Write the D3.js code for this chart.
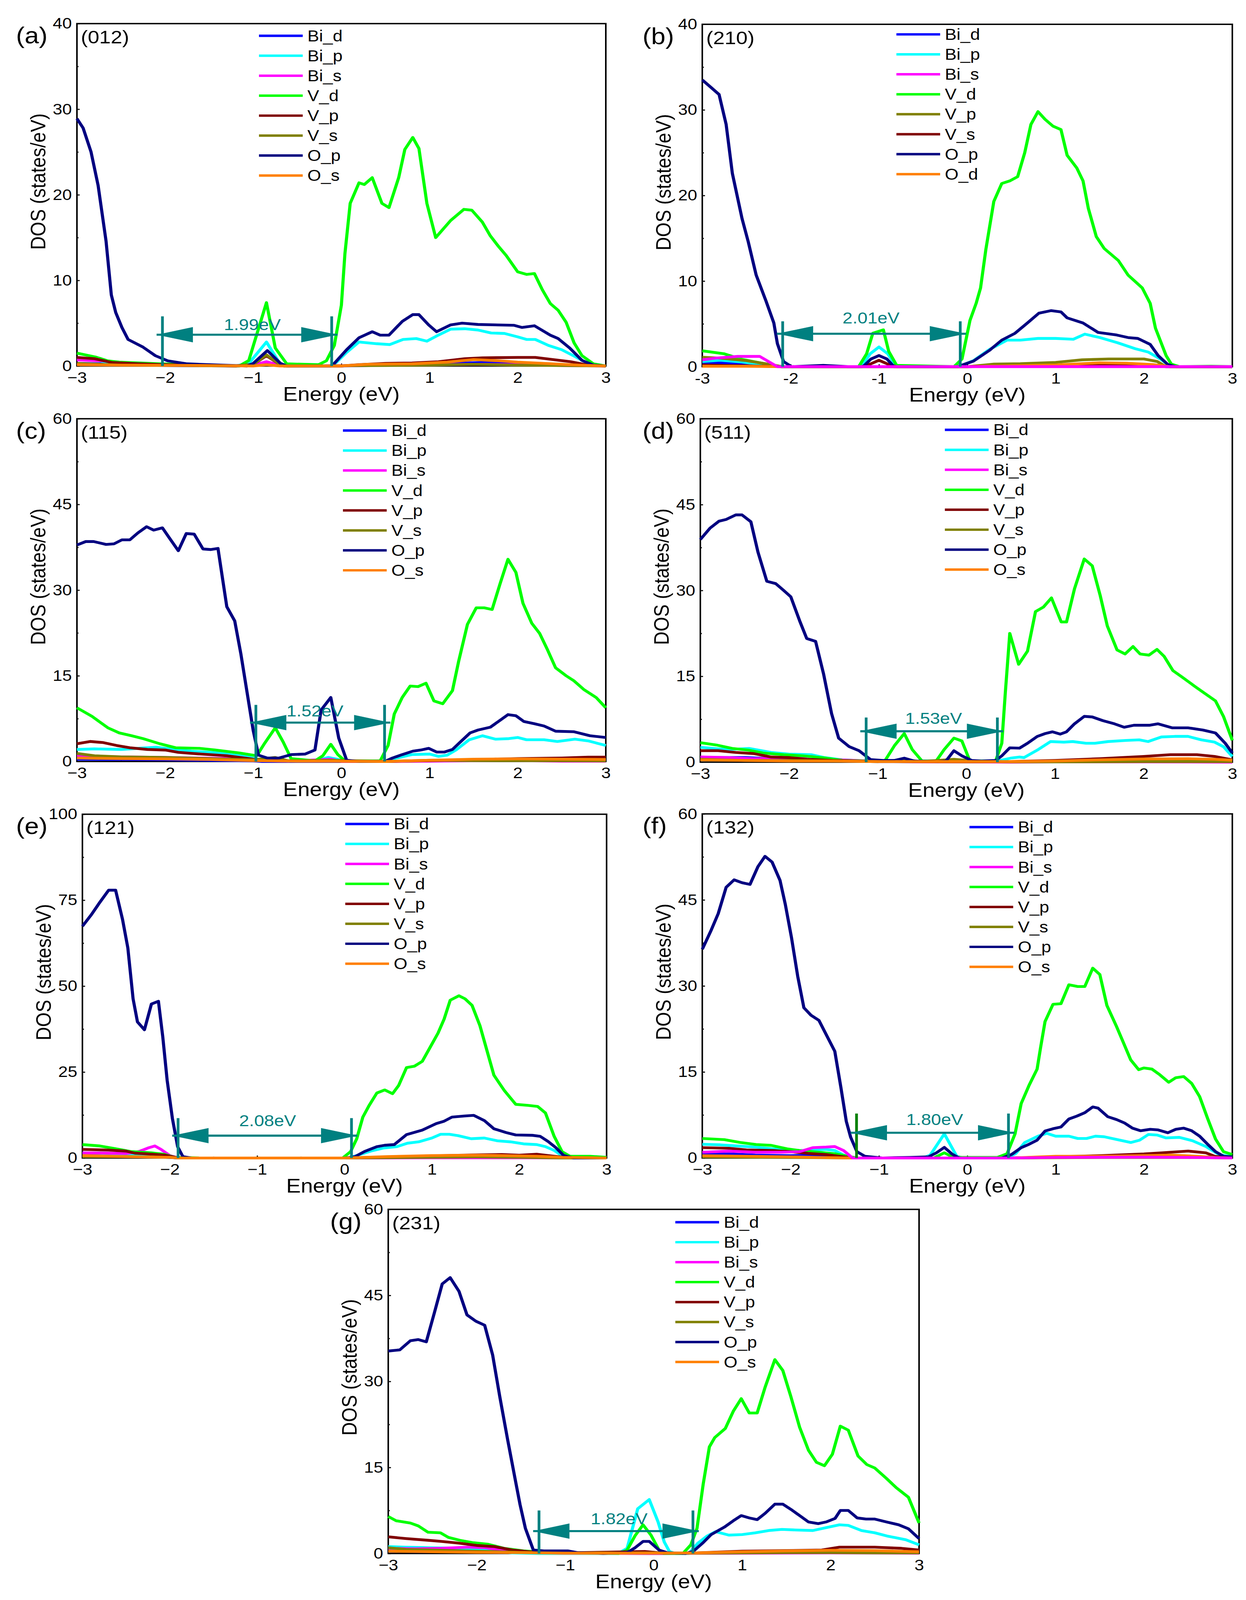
<!DOCTYPE html>
<html>
<head>
<meta charset="utf-8">
<script src="https://cdn.jsdelivr.net/npm/d3@7"></script>
<style>
  html, body { margin: 0; padding: 0; width: 100%; height: 100%; overflow: hidden; background: #fff; }
  #chart svg { display: block; width: 100vw; height: 100vh; }
  text { font-family: "Liberation Sans", Arial, sans-serif; fill: #000; }
</style>
</head>
<body>
<div id="chart"></div>
<script>
// ---- data ----
const energyTicks = [-3, -2, -1, 0, 1, 2, 3];
const panelLetters = ["(a)", "(b)", "(c)", "(d)", "(e)", "(f)", "(g)"];
const facets = ["(012)", "(210)", "(115)", "(511)", "(121)", "(132)", "(231)"];
const yMaxes = [40, 40, 60, 60, 100, 60, 60];

const seriesNames = ["Bi_d", "Bi_p", "Bi_s", "V_d", "V_p", "V_s", "O_p", "O_s"];
const seriesNamesB = ["Bi_d", "Bi_p", "Bi_s", "V_d", "V_p", "V_s", "O_p", "O_d"];
const seriesColors = ["#0000ff", "#00ffff", "#ff00ff", "#00ff00", "#800000", "#808000", "#000080", "#ff8000"];
const seriesColorsB = ["#0000ff", "#00ffff", "#ff00ff", "#00ff00", "#808000", "#800000", "#000080", "#ff8000"];

// band gap annotation (energies in eV, heights in DOS units)
const gapLabels = ["1.99eV", "2.01eV", "1.52eV", "1.53eV", "2.08eV", "1.80eV", "1.82eV"];
const gapStart = [-2.03, -2.09, -0.97, -1.13, -1.905, -1.254, -1.296];
const gapEnd = [-0.11, -0.08, 0.49, 0.35, 0.08, 0.466, 0.444];
const gapTop = [5.8, 5.3, 9.9, 7.8, 11.6, 7.75, 7.5];
const gapArrow = [3.65, 3.85, 6.8, 5.4, 6.5, 4.4, 3.9];
const gapTextX = [-1.01, -1.09, -0.30, -0.37, -0.88, -0.37, -0.39];
const gapTextY = [4.2, 5.05, 7.9, 6.7, 9.3, 5.75, 5.1];
const gapLeftColor = ["#008080", "#008080", "#008080", "#008080", "#008080", "#008000", "#008080"];

// series in legend order: Bi_d, Bi_p, Bi_s, V_d, V_p, V_s, O_p, O_s
const dosA = [
  [[-3,0.3],[-2.7,0.25],[-2.4,0.1],[-2,0.05],[-1.2,0],[-1.0,0.05],[-0.85,0.3],[-0.7,0.05],[-0.6,0],[0,0],[0.5,0.1],[1.0,0.2],[1.4,0.35],[1.6,0.4],[2.0,0.3],[2.4,0.15],[2.8,0.05],[3,0]],
  [[-3,0.9],[-2.8,0.7],[-2.6,0.3],[-2.2,0.15],[-1.2,0],[-1.05,0.3],[-0.85,2.8],[-0.7,0.3],[-0.62,0],[-0.1,0],[0.05,1.5],[0.2,2.8],[0.4,2.6],[0.55,2.5],[0.7,3.1],[0.85,3.2],[0.97,2.9],[1.08,3.5],[1.24,4.3],[1.4,4.35],[1.55,4.2],[1.7,3.85],[1.85,3.8],[2.0,3.4],[2.1,3.1],[2.2,3.1],[2.35,2.4],[2.5,1.9],[2.65,1.1],[2.78,0.4],[2.9,0.1],[3,0]],
  [[-3,0.7],[-2.7,0.6],[-2.5,0.3],[-2.2,0.15],[-1.2,0],[-1.0,0.1],[-0.85,0.5],[-0.7,0.1],[-0.6,0],[0.2,0.05],[1.0,0.15],[1.6,0.2],[2.0,0.15],[2.5,0.05],[3,0]],
  [[-3,1.5],[-2.79,1.05],[-2.65,0.6],[-2.52,0.45],[-2.06,0.25],[-1.16,0],[-1.05,0.65],[-0.85,7.4],[-0.75,2.1],[-0.62,0.25],[-0.26,0.15],[-0.17,0.6],[-0.08,2.4],[0.0,7.1],[0.04,13.1],[0.1,19],[0.2,21.4],[0.26,21.2],[0.35,22],[0.46,19],[0.54,18.5],[0.65,22],[0.72,25.3],[0.81,26.7],[0.88,25.4],[0.97,19],[1.07,15],[1.24,17],[1.39,18.3],[1.48,18.2],[1.6,16.8],[1.69,15.2],[1.78,14],[1.87,12.9],[2.0,11],[2.1,10.7],[2.19,10.8],[2.28,8.9],[2.37,7.3],[2.46,6.5],[2.55,5.1],[2.64,2.7],[2.73,1.2],[2.86,0.25],[3,0]],
  [[-3,1.0],[-2.8,0.85],[-2.6,0.4],[-2.3,0.25],[-2.0,0.15],[-1.2,0],[-1.0,0.2],[-0.85,1.2],[-0.7,0.2],[-0.65,0],[0,0],[0.2,0.15],[0.5,0.3],[0.8,0.35],[1.1,0.5],[1.4,0.85],[1.6,0.95],[2.0,1.0],[2.2,1.0],[2.4,0.75],[2.6,0.5],[2.8,0.1],[3,0]],
  [[-3,0.3],[-2.5,0.1],[-1.2,0],[-1.0,0.2],[-0.85,1.3],[-0.7,0.2],[-0.65,0],[0.5,0.05],[1.0,0.1],[1.5,0.2],[2.0,0.1],[3,0]],
  [[-3,28.9],[-2.93,27.8],[-2.84,25],[-2.76,21.1],[-2.67,14.6],[-2.61,8.3],[-2.56,6.25],[-2.49,4.5],[-2.42,3.1],[-2.25,2.2],[-2.11,1.2],[-1.97,0.6],[-1.75,0.25],[-1.34,0.1],[-1.07,0],[-1.0,0.3],[-0.84,1.8],[-0.69,0.3],[-0.62,0],[-0.12,0],[-0.08,0.3],[0.06,1.9],[0.2,3.3],[0.35,4.0],[0.44,3.6],[0.54,3.6],[0.69,5.2],[0.81,6.0],[0.88,6.0],[0.99,4.8],[1.08,4.0],[1.24,4.8],[1.37,5.0],[1.55,4.85],[1.96,4.75],[2.05,4.5],[2.19,4.7],[2.37,3.6],[2.46,3.2],[2.59,2.1],[2.73,0.65],[2.86,0.1],[3,0]],
  [[-3,0.15],[-2.5,0.1],[-1.5,0.05],[-1,0],[-0.85,0.15],[-0.7,0],[0,0],[0.3,0.2],[0.8,0.25],[1.2,0.45],[1.5,0.75],[1.8,0.6],[2.0,0.45],[2.3,0.3],[2.7,0.1],[3,0]]
];

const dosB = [
  [[-3,0.5],[-2.7,0.4],[-2.4,0.2],[-2.1,0],[0,0],[0.5,0.05],[1.0,0.15],[1.5,0.15],[2.0,0.15],[2.25,0],[3,0]],
  [[-3,0.6],[-2.8,0.75],[-2.55,0.55],[-2.3,0.2],[-2.1,0],[-1.2,0],[-1.1,1.5],[-1.0,2.3],[-0.9,1.5],[-0.8,0],[-0.1,0],[0.07,0.7],[0.25,2.0],[0.45,3.1],[0.6,3.1],[0.8,3.3],[1.0,3.3],[1.2,3.2],[1.33,3.8],[1.5,3.4],[1.7,2.8],[1.9,2.1],[2.05,1.7],[2.2,0.8],[2.3,0],[3,0]],
  [[-3,0.8],[-2.85,1.0],[-2.6,1.2],[-2.35,1.2],[-2.15,0],[3,0]],
  [[-3,1.85],[-2.75,1.5],[-2.57,0.9],[-2.35,0.45],[-2.1,0],[-1.23,0],[-1.14,1.5],[-1.07,3.9],[-0.95,4.3],[-0.89,1.8],[-0.8,0.15],[-0.15,0],[-0.06,0.9],[0.03,5.4],[0.1,7.4],[0.15,9.2],[0.21,13.7],[0.3,19.3],[0.39,21.4],[0.48,21.7],[0.57,22.2],[0.65,25],[0.72,28.3],[0.8,29.8],[0.88,28.9],[0.97,28.1],[1.06,27.7],[1.13,24.7],[1.24,23.2],[1.31,21.7],[1.37,18.5],[1.46,15.2],[1.55,13.8],[1.71,12.4],[1.82,10.7],[1.98,9.2],[2.07,7.4],[2.13,4.5],[2.25,1.3],[2.31,0.3],[2.4,0],[2.76,0.05],[3,0]],
  [[-3,1.1],[-2.8,1.0],[-2.5,0.7],[-2.2,0.2],[-2.1,0],[0,0],[0.3,0.3],[0.6,0.35],[1.0,0.5],[1.3,0.8],[1.6,0.9],[2.0,0.9],[2.15,0.6],[2.25,0],[3,0]],
  [[-3,0.2],[-2.5,0.1],[-2.1,0],[-1.2,0],[-1.1,0.3],[-1.0,0.75],[-0.9,0.3],[-0.8,0],[0,0],[0.5,0.1],[1.0,0.15],[1.5,0.2],[2.0,0.15],[2.3,0],[3,0]],
  [[-3,33.5],[-2.91,32.7],[-2.81,31.8],[-2.73,28.3],[-2.66,22.6],[-2.55,17.3],[-2.48,14.6],[-2.39,10.7],[-2.28,7.7],[-2.19,5.1],[-2.15,2.7],[-2.08,0.6],[-1.99,0],[-1.63,0.15],[-1.35,0],[-1.18,0],[-1.09,0.9],[-1.0,1.3],[-0.91,0.9],[-0.83,0],[-0.11,0],[0.07,0.65],[0.25,1.9],[0.39,3.1],[0.54,3.9],[0.68,5.1],[0.81,6.25],[0.95,6.55],[1.06,6.4],[1.13,5.7],[1.31,5.1],[1.48,4.0],[1.69,3.7],[1.82,3.4],[1.93,3.3],[2.07,2.6],[2.16,1.3],[2.27,0.25],[2.36,0],[3,0]],
  [[-3,0.05],[-2.5,0.05],[-2.1,0],[0,0],[0.5,0.1],[1.0,0.2],[1.5,0.45],[1.8,0.4],[2.1,0.25],[2.3,0],[3,0]]
];

const dosC = [
  [[-3,0.4],[-2.5,0.35],[-2.0,0.3],[-1.5,0.2],[-1.0,0.1],[-0.9,0],[0.5,0],[1.0,0.1],[1.5,0.2],[2.0,0.2],[2.5,0.15],[3,0.15]],
  [[-3,2.1],[-2.8,2.2],[-2.5,2.1],[-2.1,2.5],[-2.0,2.3],[-1.7,1.8],[-1.4,1.5],[-1.1,0.9],[-0.95,0.4],[-0.8,0.2],[-0.5,0.1],[-0.3,0.1],[-0.15,0.7],[-0.05,0.4],[0.05,0],[0.49,0],[0.6,0.5],[0.8,1.2],[1.0,1.3],[1.1,0.9],[1.2,1.1],[1.3,2.0],[1.45,3.8],[1.6,4.5],[1.75,3.9],[1.9,4.0],[2.0,4.2],[2.1,3.8],[2.3,3.8],[2.45,3.5],[2.65,3.9],[2.8,3.6],[2.9,3.2],[3,2.8]],
  [[-3,1.1],[-2.8,0.9],[-2.5,0.8],[-2.0,0.7],[-1.6,0.6],[-1.2,0.5],[-0.9,0.2],[-0.6,0.05],[-0.12,0.4],[0,0],[0.5,0],[1.0,0.05],[1.9,0.2],[2.5,0.05],[3,0.05]],
  [[-3,9.4],[-2.83,7.9],[-2.65,5.9],[-2.52,5.0],[-2.38,4.5],[-2.25,4.0],[-2.06,3.1],[-1.88,2.4],[-1.61,2.3],[-1.43,2.0],[-1.16,1.5],[-0.96,1.0],[-0.87,3.2],[-0.75,5.9],[-0.66,3.4],[-0.57,0.5],[-0.3,0.1],[-0.21,1.0],[-0.12,3.0],[-0.04,1.2],[0.04,0.1],[0.44,0.1],[0.53,2.8],[0.6,8.3],[0.69,11.2],[0.78,13.2],[0.87,13.1],[0.96,13.7],[1.05,10.6],[1.15,10.1],[1.26,12.4],[1.33,17.5],[1.43,24],[1.53,26.9],[1.62,26.9],[1.71,26.6],[1.8,31.1],[1.89,35.4],[1.98,33.1],[2.06,27.7],[2.16,24.2],[2.25,22.4],[2.34,19.5],[2.43,16.4],[2.55,15.0],[2.64,14.1],[2.75,12.6],[2.89,11.2],[3,9.4]],
  [[-3,3.1],[-2.85,3.5],[-2.7,3.3],[-2.55,2.8],[-2.4,2.4],[-2.2,2.1],[-2.0,2.0],[-1.85,1.6],[-1.6,1.3],[-1.3,1.0],[-1.1,0.6],[-0.95,0.3],[-0.75,0.5],[-0.6,0.1],[0,0.05],[0.5,0],[1.0,0.15],[1.5,0.3],[2.0,0.5],[2.5,0.6],[2.8,0.75],[3,0.75]],
  [[-3,1.4],[-2.8,1.0],[-2.5,0.8],[-2.0,0.7],[-1.5,0.5],[-1.0,0.3],[-0.75,0.7],[-0.6,0.1],[-0.1,0.2],[0.5,0],[1.0,0.2],[1.5,0.15],[2.0,0.15],[3,0.1]],
  [[-3,37.9],[-2.9,38.5],[-2.81,38.5],[-2.67,38],[-2.58,38.1],[-2.49,38.8],[-2.4,38.8],[-2.31,40],[-2.21,41.1],[-2.13,40.5],[-2.03,40.9],[-1.95,39.1],[-1.85,36.9],[-1.76,39.9],[-1.67,39.8],[-1.57,37.2],[-1.48,37.1],[-1.4,37.3],[-1.3,27.1],[-1.21,24.6],[-1.14,18.8],[-1.07,12.1],[-1.0,5.4],[-0.94,1.1],[-0.84,0.6],[-0.71,0.6],[-0.57,1.2],[-0.41,1.3],[-0.3,2.0],[-0.23,9.0],[-0.12,11.2],[-0.03,4.1],[0.06,0.2],[0.2,0],[0.49,0],[0.58,0.6],[0.69,1.2],[0.81,1.8],[0.9,2.0],[0.99,2.3],[1.08,1.65],[1.17,1.65],[1.26,2.1],[1.37,3.7],[1.46,5.0],[1.55,5.5],[1.69,6.0],[1.8,7.2],[1.89,8.2],[1.98,8.0],[2.07,7.0],[2.19,6.6],[2.3,6.2],[2.43,5.3],[2.64,5.2],[2.82,4.5],[3,4.2]],
  [[-3,0.6],[-2.5,0.5],[-2.0,0.45],[-1.5,0.35],[-1.0,0.15],[-0.5,0.05],[0,0.05],[0.5,0],[1.0,0.2],[1.5,0.4],[2.0,0.45],[2.5,0.4],[3,0.35]]
];

const dosD = [
  [[-3,0.8],[-2.5,0.8],[-2.0,0.5],[-1.5,0.2],[-1,0.1],[0,0.05],[0.5,0.05],[1.0,0.15],[1.5,0.2],[2.0,0.25],[2.5,0.25],[3,0.1]],
  [[-3,2.6],[-2.7,2.2],[-2.45,2.4],[-2.2,1.7],[-2.0,1.4],[-1.75,1.3],[-1.6,0.8],[-1.4,0.4],[-1.1,0.2],[-0.7,0.1],[0,0.1],[0.35,0.2],[0.5,0.7],[0.6,0.9],[0.65,0.8],[0.8,2.1],[0.95,3.6],[1.1,3.5],[1.2,3.6],[1.35,3.3],[1.45,3.3],[1.6,3.6],[1.8,3.8],[1.95,3.9],[2.05,3.6],[2.2,4.4],[2.35,4.5],[2.5,4.5],[2.65,3.9],[2.8,3.5],[2.9,2.7],[3,1.0]],
  [[-3,0.9],[-2.7,0.8],[-2.4,0.6],[-2.0,0.7],[-1.75,1.0],[-1.6,0.6],[-1.4,0.4],[-1.1,0.2],[-0.5,0.05],[0,0.05],[0.5,0],[1.0,0.05],[1.5,0.05],[2,0.05],[3,0]],
  [[-3,3.4],[-2.82,3.0],[-2.64,2.4],[-2.46,2.1],[-2.29,1.6],[-2.06,1.3],[-1.84,1.1],[-1.61,0.75],[-1.39,0.3],[-1.12,0.2],[-0.92,0.2],[-0.81,2.9],[-0.7,5.0],[-0.61,2.2],[-0.5,0.2],[-0.34,0.2],[-0.25,2.2],[-0.14,4.2],[-0.05,3.7],[0.04,0.2],[0.33,0.2],[0.4,3.3],[0.44,12.2],[0.49,22.5],[0.59,17.1],[0.69,19.4],[0.78,26.3],[0.87,27.1],[0.96,28.7],[1.07,24.5],[1.13,24.5],[1.22,30.3],[1.33,35.5],[1.42,34.3],[1.51,29.1],[1.59,23.8],[1.7,19.6],[1.79,18.9],[1.88,20.2],[1.96,18.9],[2.06,18.7],[2.15,19.7],[2.23,18.5],[2.33,16],[2.43,14.9],[2.59,13.1],[2.81,10.7],[2.9,8.0],[3,3.8]],
  [[-3,2.0],[-2.8,2.0],[-2.6,1.7],[-2.4,1.5],[-2.2,0.9],[-2.0,0.8],[-1.8,0.5],[-1.5,0.3],[-1.1,0.15],[-0.7,0.1],[0,0.05],[0.5,0.1],[1.0,0.3],[1.5,0.6],[2.0,1.0],[2.3,1.3],[2.6,1.3],[2.8,1.0],[3,0.4]],
  [[-3,0.5],[-2.5,0.3],[-2.0,0.3],[-1.5,0.2],[-1,0.1],[-0.7,0.4],[-0.5,0.1],[-0.14,0.5],[0.1,0.2],[0.5,0.05],[1.0,0.05],[2.0,0.1],[3,0.1]],
  [[-3,38.9],[-2.89,40.9],[-2.79,42.1],[-2.71,42.4],[-2.6,43.2],[-2.53,43.2],[-2.43,42.0],[-2.35,36.7],[-2.25,31.6],[-2.15,31.2],[-2.06,30],[-1.98,28.9],[-1.88,24.7],[-1.8,21.6],[-1.7,21.1],[-1.61,15.4],[-1.52,8.5],[-1.44,4.2],[-1.32,2.7],[-1.21,2.0],[-1.08,0.45],[-0.94,0.3],[-0.81,0.3],[-0.7,0.7],[-0.59,0.2],[-0.32,0.1],[-0.23,0.2],[-0.14,2.0],[-0.05,1.1],[0.06,0.3],[0.17,0.2],[0.33,0.3],[0.4,1.1],[0.49,2.5],[0.6,2.45],[0.69,3.3],[0.8,4.5],[0.89,5.0],[0.97,5.3],[1.06,4.9],[1.13,5.3],[1.22,6.7],[1.33,8.0],[1.42,7.9],[1.54,7.25],[1.67,6.7],[1.78,6.1],[1.89,6.45],[2.07,6.45],[2.16,6.7],[2.32,6.0],[2.5,6.0],[2.67,5.6],[2.81,5.1],[2.92,3.3],[3,1.6]],
  [[-3,0.4],[-2.5,0.3],[-2.0,0.2],[-1.5,0.2],[-1.0,0.1],[0,0.1],[0.5,0.1],[1.0,0.2],[1.5,0.4],[2.0,0.55],[2.5,0.6],[2.8,0.5],[3,0.35]]
];

const dosE = [
  [[-3,0.8],[-2.5,0.6],[-2.1,0.3],[-1.9,0],[0,0],[1.0,0.2],[1.6,0.4],[2.0,0.3],[2.5,0.05],[3,0]],
  [[-3,1.5],[-2.8,1.4],[-2.6,1.2],[-2.4,0.8],[-2.2,0.6],[-2.05,0.5],[-1.9,0],[0.05,0],[0.15,0.8],[0.3,2.0],[0.45,2.9],[0.6,3.3],[0.72,4.3],[0.85,4.7],[1.0,5.8],[1.1,6.9],[1.2,6.9],[1.3,6.5],[1.45,5.6],[1.6,5.8],[1.75,5.0],[1.9,4.7],[2.05,4.1],[2.2,3.9],[2.3,3.3],[2.4,2.2],[2.5,0.5],[2.6,0],[3,0]],
  [[-3,1.5],[-2.7,1.4],[-2.5,1.3],[-2.35,1.9],[-2.25,2.9],[-2.17,3.5],[-2.1,2.5],[-2.0,0.7],[-1.9,0],[0,0],[1,0.05],[2,0.05],[3,0]],
  [[-3,3.9],[-2.8,3.5],[-2.62,2.7],[-2.44,1.85],[-2.21,1.5],[-2.07,1.1],[-1.94,0.2],[-1.66,0],[-0.02,0],[0.07,1.85],[0.14,5.6],[0.21,11.9],[0.28,15.2],[0.37,18.9],[0.46,19.8],[0.55,18.7],[0.62,21.1],[0.71,26.3],[0.8,26.7],[0.89,28.1],[0.98,32.2],[1.07,36.3],[1.14,40.4],[1.21,45.9],[1.31,47.2],[1.38,46.3],[1.46,44.4],[1.55,38.5],[1.62,32.2],[1.71,24.1],[1.83,19.6],[1.96,15.6],[2.1,15.3],[2.21,15.0],[2.3,13.1],[2.4,6.3],[2.49,1.85],[2.58,0.5],[2.81,0.5],[3,0.2]],
  [[-3,2.5],[-2.7,2.3],[-2.5,2.0],[-2.4,1.4],[-2.2,1.1],[-2.05,0.8],[-1.9,0],[0,0],[0.5,0.3],[1.0,0.6],[1.5,0.9],[1.8,1.0],[2.0,0.8],[2.2,1.1],[2.4,0.5],[2.6,0],[3,0]],
  [[-3,0.4],[-2.5,0.4],[-2.0,0.2],[-1.9,0],[0,0],[1,0.2],[1.5,0.3],[2,0.2],[2.5,0],[3,0]],
  [[-3,67.4],[-2.9,70.7],[-2.8,74.4],[-2.7,77.9],[-2.62,77.9],[-2.54,69.3],[-2.48,61.1],[-2.42,46.3],[-2.37,39.6],[-2.29,37.3],[-2.21,44.8],[-2.13,45.6],[-2.08,35.2],[-2.03,22.6],[-1.97,11.5],[-1.91,3.3],[-1.85,0.4],[-1.75,0],[0.02,0],[0.12,0.4],[0.23,1.9],[0.37,3.3],[0.46,3.7],[0.57,3.9],[0.71,6.8],[0.89,8.1],[1.05,10],[1.14,10.7],[1.23,11.9],[1.37,12.2],[1.48,12.4],[1.6,10.9],[1.71,8.5],[1.85,7.4],[1.96,6.7],[2.15,6.6],[2.24,6.3],[2.33,4.8],[2.42,3.0],[2.51,0.7],[2.62,0],[3,0]],
  [[-3,0.7],[-2.5,0.4],[-2.0,0.2],[-1.9,0],[0,0],[0.5,0.4],[1.0,0.7],[1.5,0.8],[1.8,0.7],[2.2,0.5],[2.5,0.2],[3,0]]
];

const dosF = [
  [[-3,0.6],[-2.7,0.7],[-2.4,0.5],[-2.0,0.4],[-1.7,0.5],[-1.5,0.4],[-1.3,0],[0.45,0],[1.0,0.1],[2.0,0.3],[2.5,0.3],[3,0]],
  [[-3,2.4],[-2.8,2.3],[-2.6,2.1],[-2.4,1.9],[-2.2,1.6],[-2.0,1.3],[-1.85,1.3],[-1.75,1.4],[-1.6,1.5],[-1.5,1.3],[-1.4,0.5],[-1.3,0],[-0.5,0],[-0.42,0.5],[-0.26,4.2],[-0.12,0.3],[-0.05,0],[0.45,0],[0.55,0.8],[0.65,2.7],[0.8,3.8],[0.9,4.3],[1.0,3.8],[1.15,3.8],[1.25,3.4],[1.35,3.4],[1.45,3.8],[1.55,3.7],[1.7,3.2],[1.85,2.7],[1.95,3.1],[2.05,4.1],[2.15,4.0],[2.25,3.5],[2.4,3.6],[2.55,3.0],[2.7,2.0],[2.85,0.6],[3,0.2]],
  [[-3,1.0],[-2.7,1.2],[-2.4,1.0],[-2.1,1.0],[-1.9,1.1],[-1.75,1.8],[-1.6,1.9],[-1.5,2.0],[-1.4,1.3],[-1.3,0],[0.5,0],[1.0,0.1],[2.0,0.15],[2.5,0.1],[3,0]],
  [[-3,3.4],[-2.75,3.2],[-2.57,2.7],[-2.39,2.35],[-2.22,2.2],[-2.04,1.6],[-1.9,1.3],[-1.68,1.0],[-1.5,0.75],[-1.32,0.2],[-1.25,0],[-0.38,0],[-0.26,0.9],[-0.17,0.2],[-0.06,0.1],[0.34,0.1],[0.45,0.75],[0.54,4.2],[0.61,9.5],[0.7,12.7],[0.79,15.5],[0.83,19.3],[0.88,23.8],[0.97,26.8],[1.06,26.9],[1.15,30.2],[1.25,29.9],[1.33,29.9],[1.42,33.1],[1.5,32.0],[1.58,26.6],[1.69,22.9],[1.77,20.0],[1.85,17.1],[1.94,15.4],[2.0,15.7],[2.09,15.5],[2.18,14.5],[2.28,13.2],[2.36,14.0],[2.45,14.2],[2.54,13.0],[2.63,10.7],[2.72,6.9],[2.81,3.3],[2.9,1.1],[3,0.6]],
  [[-3,1.8],[-2.7,1.7],[-2.5,1.4],[-2.2,1.3],[-2.0,1.1],[-1.8,0.8],[-1.6,0.6],[-1.3,0],[0.5,0],[1.0,0.2],[1.5,0.4],[2.0,0.7],[2.2,0.9],[2.5,1.2],[2.7,0.9],[2.8,0.3],[3,0]],
  [[-3,0.2],[-2.5,0.15],[-2,0.1],[-1.3,0],[0.5,0],[1.5,0.1],[2.5,0.1],[3,0]],
  [[-3,36.4],[-2.9,39.7],[-2.82,42.6],[-2.73,47.2],[-2.64,48.5],[-2.55,48.0],[-2.46,47.7],[-2.37,50.8],[-2.29,52.6],[-2.21,51.6],[-2.12,48.4],[-2.06,44.2],[-1.99,38.4],[-1.92,31.7],[-1.85,26.2],[-1.77,24.9],[-1.68,24],[-1.59,21.3],[-1.5,18.6],[-1.43,12.2],[-1.37,6.4],[-1.32,3.6],[-1.25,1.1],[-1.16,0.3],[-0.96,0],[-0.65,0.1],[-0.44,0.2],[-0.35,0.9],[-0.26,1.85],[-0.17,0.65],[-0.09,0],[0.39,0],[0.5,0.6],[0.61,1.8],[0.7,2.4],[0.79,3.1],[0.88,4.7],[0.97,5.1],[1.06,5.4],[1.15,6.8],[1.24,7.3],[1.33,7.9],[1.42,8.9],[1.48,8.7],[1.59,7.2],[1.69,6.7],[1.78,6.1],[1.87,5.2],[1.96,4.75],[2.07,5.0],[2.16,4.9],[2.27,4.4],[2.36,5.0],[2.45,5.2],[2.54,4.75],[2.63,3.8],[2.72,2.4],[2.81,1.1],[2.9,0.3],[3,0.2]],
  [[-3,0.4],[-2.5,0.3],[-2.0,0.2],[-1.7,0.1],[-1.3,0],[0.5,0],[1.0,0.3],[1.5,0.3],[2.0,0.4],[2.3,0.5],[2.6,0.3],[2.8,0.1],[3,0]]
];

const dosG = [
  [[-3,0.4],[-2.5,0.3],[-2.0,0.3],[-1.5,0.1],[0,0],[1,0.1],[2,0.2],[3,0.1]],
  [[-3,1.2],[-2.8,1.1],[-2.5,1.0],[-2.2,0.9],[-2.0,0.8],[-1.8,0.4],[-1.6,0.1],[-1.3,0],[-0.4,0],[-0.3,0.9],[-0.18,7.8],[-0.05,9.4],[0.05,5.5],[0.12,2.0],[0.18,0.3],[0.25,0],[0.4,0],[0.5,1.8],[0.6,3.0],[0.7,3.8],[0.85,3.2],[1.0,3.3],[1.15,3.6],[1.3,4.0],[1.45,4.2],[1.6,4.1],[1.8,4.0],[1.95,4.5],[2.1,5.0],[2.2,4.9],[2.35,4.0],[2.5,3.6],[2.65,3.0],[2.85,2.4],[3,1.5]],
  [[-3,0.9],[-2.7,0.8],[-2.4,0.9],[-2.1,1.1],[-1.9,1.0],[-1.7,0.5],[-1.4,0.2],[-1.0,0.05],[0,0],[1.0,0.05],[2,0.1],[3,0.05]],
  [[-3,6.45],[-2.91,5.7],[-2.75,5.3],[-2.66,4.8],[-2.55,3.7],[-2.41,3.6],[-2.32,2.8],[-2.19,2.3],[-2.05,1.9],[-1.87,1.6],[-1.69,0.9],[-1.47,0.45],[-1.15,0.15],[-0.39,0],[-0.3,0.6],[-0.21,3.1],[-0.12,5.0],[-0.03,3.2],[0.06,0.6],[0.11,0],[0.33,0],[0.42,1.5],[0.49,4.4],[0.56,12.1],[0.63,18.6],[0.69,20.2],[0.81,21.8],[0.9,24.8],[0.99,27],[1.08,24.5],[1.17,24.5],[1.26,29],[1.37,33.8],[1.46,31.9],[1.55,27.4],[1.65,22.0],[1.75,18.0],[1.84,15.9],[1.93,15.3],[2.02,17.3],[2.11,22.2],[2.2,21.5],[2.31,17.0],[2.41,15.5],[2.5,14.9],[2.63,13.1],[2.74,11.5],[2.88,9.8],[3,5.3]],
  [[-3,2.9],[-2.8,2.6],[-2.55,2.3],[-2.4,2.1],[-2.2,1.8],[-2.0,1.4],[-1.8,1.2],[-1.6,0.6],[-1.4,0.3],[-1.0,0.1],[-0.1,0.35],[0.1,0.05],[0.5,0.1],[1.0,0.4],[1.5,0.5],[1.9,0.6],[2.1,1.1],[2.5,1.1],[2.8,0.9],[3,0.6]],
  [[-3,1.0],[-2.8,0.7],[-2.5,0.6],[-2.0,0.4],[-1.5,0.2],[-1.0,0.1],[0,0.1],[0.5,0.05],[1.0,0.1],[1.5,0.15],[2.0,0.15],[2.5,0.1],[3,0.1]],
  [[-3,35.3],[-2.87,35.5],[-2.75,37.1],[-2.66,37.3],[-2.57,36.9],[-2.48,41.9],[-2.39,47.0],[-2.3,48.1],[-2.2,45.7],[-2.11,41.6],[-2.01,40.5],[-1.91,39.8],[-1.82,34.6],[-1.74,27.4],[-1.65,19.8],[-1.56,12.5],[-1.51,8.5],[-1.45,4.4],[-1.36,0.6],[-1.24,0.45],[-0.97,0.45],[-0.86,0.15],[-0.57,0],[-0.3,0.15],[-0.21,1.0],[-0.12,2.1],[-0.05,2.1],[0.06,0.6],[0.15,0.15],[0.36,0],[0.45,0.4],[0.56,1.9],[0.65,3.3],[0.8,4.6],[0.9,5.7],[0.99,6.6],[1.08,6.2],[1.17,5.9],[1.26,7.0],[1.37,8.6],[1.46,8.6],[1.55,7.7],[1.66,6.5],[1.75,5.5],[1.86,5.2],[1.95,5.5],[2.05,6.1],[2.11,7.5],[2.2,7.5],[2.3,6.2],[2.4,6.0],[2.5,6.0],[2.63,5.5],[2.77,5.0],[2.88,4.3],[3,2.6]],
  [[-3,0.4],[-2.5,0.3],[-2.0,0.2],[-1.5,0.15],[-1.0,0.05],[0,0.05],[0.5,0.1],[1.0,0.3],[1.5,0.45],[2.0,0.55],[2.5,0.5],[3,0.3]]
];

const panelData = [dosA, dosB, dosC, dosD, dosE, dosF, dosG];
// index of a series drawn last (on top); -1 keeps legend order
const topSeries = [-1, 2, -1, -1, -1, 2, -1];

// ---- layout (pixels of the 3190 x 4608 figure) ----
const W = 3190, H = 4608;
const frames = [
  { left: 197, right: 1551, top: 68, bottom: 1054, tagX: 41, legX: 466, legY: 35 },
  { left: 1798, right: 3155, top: 70, bottom: 1056, tagX: 1645, legX: 497, legY: 29 },
  { left: 197, right: 1551, top: 1206, bottom: 2193, tagX: 41, legX: 681, legY: 34 },
  { left: 1793, right: 3155, top: 1206, bottom: 2195, tagX: 1645, legX: 626, legY: 32 },
  { left: 211, right: 1553, top: 2345, bottom: 3335, tagX: 41, legX: 673, legY: 28 },
  { left: 1798, right: 3155, top: 2344, bottom: 3335, tagX: 1645, legX: 684, legY: 38 },
  { left: 994, right: 2353, top: 3483, bottom: 4474, tagX: 845, legX: 735, legY: 37 }
];
const teal = "#008080";
const font = '"Liberation Sans", Arial, sans-serif';

// the svg is stretched over the whole window so the full figure is always in view
const svg = d3.select("#chart").append("svg")
  .attr("viewBox", `0 0 ${W} ${H}`)
  .attr("preserveAspectRatio", "none")
  .style("background", "#fff");

frames.forEach((f, p) => {
  const x = d3.scaleLinear().domain([-3, 3]).range([f.left, f.right]);
  const y = d3.scaleLinear().domain([0, yMaxes[p]]).range([f.bottom, f.top]);
  const g = svg.append("g").attr("class", "panel");
  const names = p === 1 ? seriesNamesB : seriesNames;
  const colors = p === 1 ? seriesColorsB : seriesColors;
  const minus = p === 1 ? "-" : "\u2212";

  // frame
  g.append("rect")
    .attr("x", f.left).attr("y", f.top)
    .attr("width", f.right - f.left).attr("height", f.bottom - f.top)
    .attr("fill", "none").attr("stroke", "#000").attr("stroke-width", 4);

  // axes with small inward ticks
  const yStep = yMaxes[p] / 4;
  const yAxis = d3.axisLeft(y)
    .tickValues(d3.range(0, yMaxes[p] + 1, yStep))
    .tickSize(-7).tickPadding(13)
    .tickFormat(d3.format("d"));
  const yMinor = d3.axisLeft(y)
    .tickValues(d3.range(yStep / 2, yMaxes[p], yStep))
    .tickSize(-4).tickFormat("");
  const xAxis = d3.axisBottom(x)
    .tickValues(energyTicks)
    .tickSize(-7).tickPadding(17)
    .tickFormat(d => d < 0 ? minus + Math.abs(d) : String(d));
  const xMinor = d3.axisBottom(x)
    .tickValues(d3.range(-2.5, 3, 1))
    .tickSize(-4).tickFormat("");

  [
    g.append("g").attr("transform", `translate(${f.left},0)`).call(yAxis),
    g.append("g").attr("transform", `translate(${f.left},0)`).call(yMinor),
    g.append("g").attr("transform", `translate(0,${f.bottom})`).call(xAxis),
    g.append("g").attr("transform", `translate(0,${f.bottom})`).call(xMinor)
  ].forEach(a => {
    a.select(".domain").remove();
    a.selectAll(".tick line").attr("stroke", "#000").attr("stroke-width", 3);
    a.selectAll(".tick text")
      .attr("fill", "#000").style("font-family", font).style("font-size", "44px");
  });

  // DOS curves
  const line = d3.line().x(d => x(d[0])).y(d => y(d[1]));
  const order = d3.range(names.length).filter(i => i !== topSeries[p]);
  if (topSeries[p] >= 0) order.push(topSeries[p]);
  g.append("g").selectAll("path")
    .data(order)
    .join("path")
    .attr("d", i => line(panelData[p][i]))
    .attr("fill", "none")
    .attr("stroke", i => colors[i])
    .attr("stroke-width", 8)
    .attr("stroke-linejoin", "round");

  // band gap annotation
  const ann = g.append("g").attr("class", "gap");
  [[gapStart[p], gapLeftColor[p]], [gapEnd[p], teal]].forEach(([e, c]) => {
    ann.append("line")
      .attr("x1", x(e)).attr("x2", x(e))
      .attr("y1", y(0)).attr("y2", y(gapTop[p]))
      .attr("stroke", c).attr("stroke-width", 7);
  });
  const ay = y(gapArrow[p]);
  const xl = x(gapStart[p]) - 15, xr = x(gapEnd[p]) + 15;
  ann.append("line")
    .attr("x1", xl).attr("x2", xr).attr("y1", ay).attr("y2", ay)
    .attr("stroke", teal).attr("stroke-width", 6);
  ann.append("path")
    .attr("d", `M${xl},${ay}L${xl + 93},${ay - 22}L${xl + 93},${ay + 22}Z`)
    .attr("fill", teal);
  ann.append("path")
    .attr("d", `M${xr},${ay}L${xr - 93},${ay - 22}L${xr - 93},${ay + 22}Z`)
    .attr("fill", teal);
  ann.append("text")
    .attr("x", x(gapTextX[p])).attr("y", y(gapTextY[p]))
    .attr("text-anchor", "middle")
    .style("font-size", "46px").style("fill", teal)
    .text(gapLabels[p]);

  // legend
  const leg = g.append("g")
    .attr("transform", `translate(${f.left + f.legX},${f.top + f.legY})`);
  const rows = leg.selectAll("g").data(names).join("g")
    .attr("transform", (d, i) => `translate(0,${i * 57.5})`);
  rows.append("line")
    .attr("x1", 0).attr("x2", 112).attr("y1", 0).attr("y2", 0)
    .attr("stroke", (d, i) => colors[i]).attr("stroke-width", 7);
  rows.append("text")
    .attr("x", 124).attr("dy", "0.35em")
    .style("font-size", "45px")
    .text(d => d);

  // panel letter, facet, axis titles
  g.append("text")
    .attr("x", f.tagX).attr("y", f.top + 57)
    .style("font-size", "66px").text(panelLetters[p]);
  g.append("text")
    .attr("x", f.left + 10).attr("y", f.top + 57)
    .style("font-size", "53px").text(facets[p]);
  g.append("text")
    .attr("x", (f.left + f.right) / 2).attr("y", f.bottom + 100)
    .attr("text-anchor", "middle")
    .style("font-size", "56px").text("Energy (eV)");
  g.append("text")
    .attr("transform", `translate(${f.left - 100},${f.top + 455}) rotate(-90)`)
    .attr("text-anchor", "middle").attr("dy", "0.35em")
    .style("font-size", "54px").text("DOS (states/eV)");
});
</script>
</body>
</html>
